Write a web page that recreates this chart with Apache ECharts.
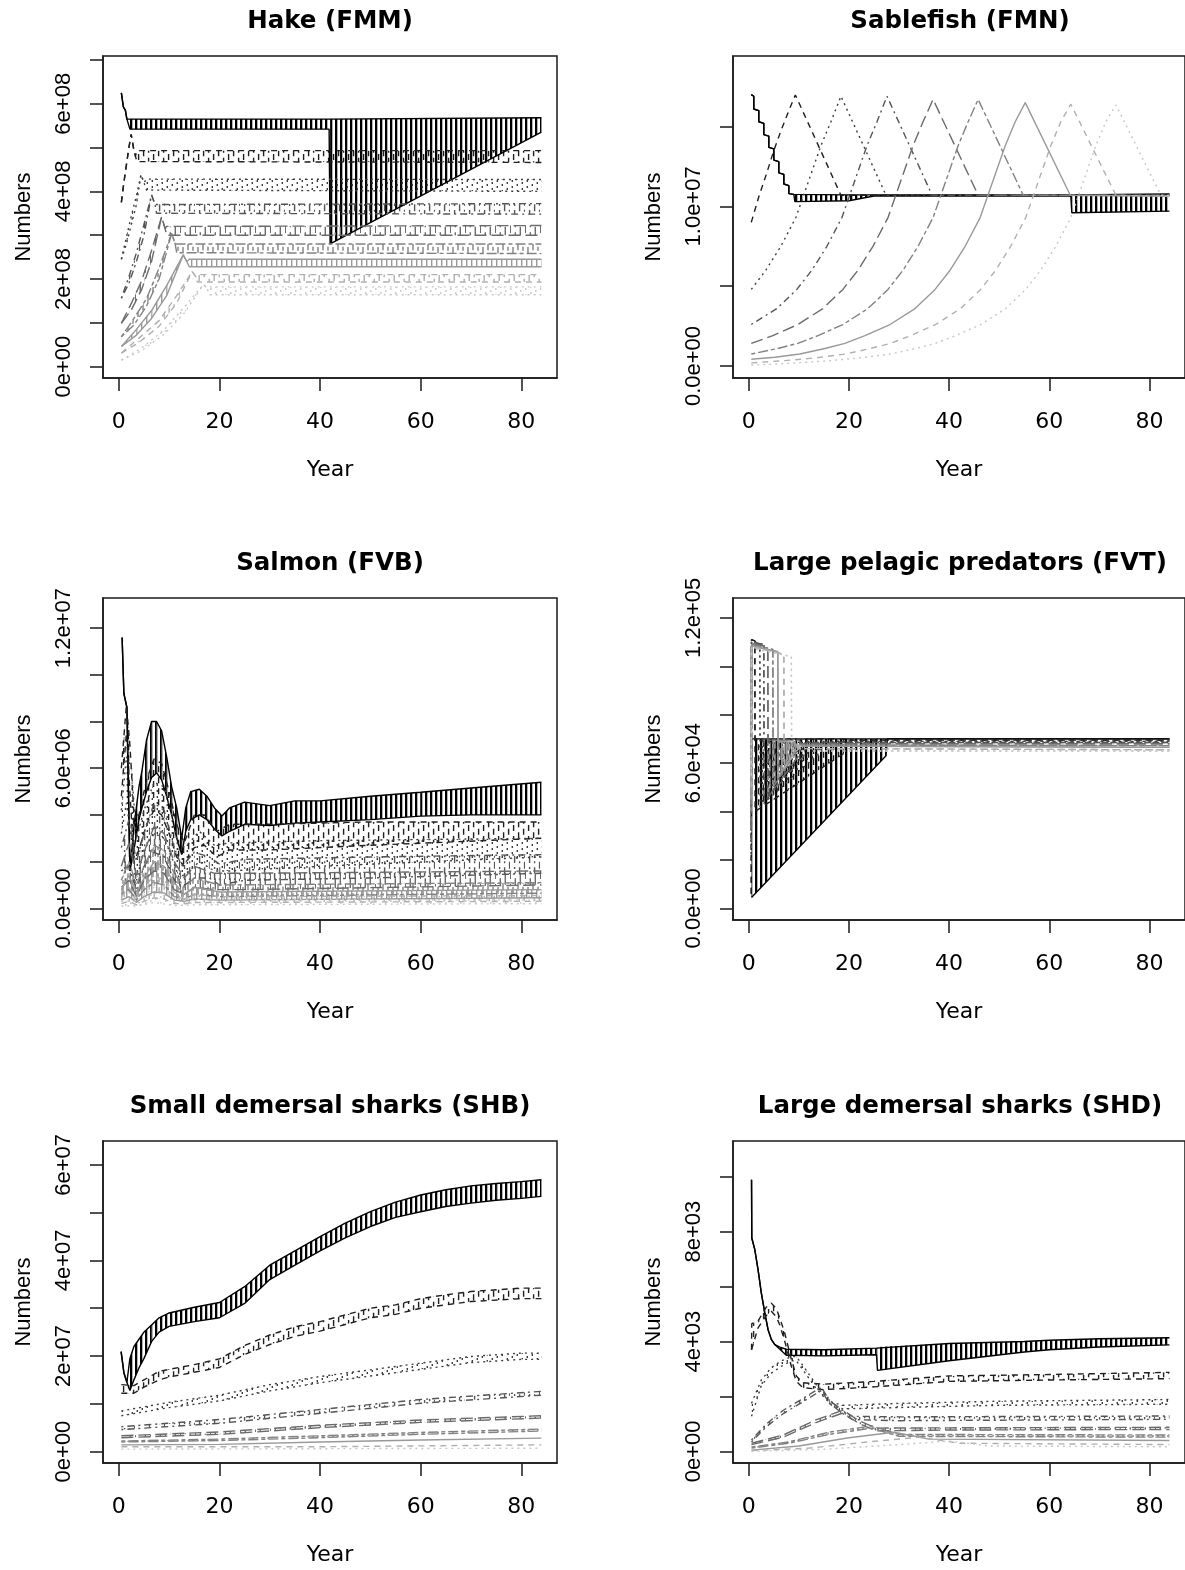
<!DOCTYPE html>
<html>
<head>
<meta charset="utf-8">
<script src="https://cdn.jsdelivr.net/npm/echarts@6/dist/echarts.min.js"></script>
<style>
html, body { margin: 0; padding: 0; background: #fff; }
#main { width: 1185px; height: 1570px; }
</style>
</head>
<body>
<div id="main"></div>
<script>
// x axis (years)
const xTickVals = [0, 20, 40, 60, 80];

// each line: [year, low, high] (panel units), low == high where the line does not oscillate
// Hake, units of 1e8
const hakeLines = [
  [[0.5,6.25,6.25],[0.9,5.93,5.93],[1.3,5.85,5.85],[1.6,5.65,5.65],[2.2,5.42,5.65],[41.8,5.42,5.65],[42.0,2.8,5.65],[84,5.35,5.68]],
  [[0.5,3.75,3.75],[1.0,4.2,4.2],[1.5,4.6,4.6],[2.0,5.0,5.0],[2.45,5.3,5.3],[2.9,5.0,5.0],[3.3,4.8,4.8],[3.6,4.68,4.93],[84,4.66,4.93]],
  [[0.5,2.45,2.45],[1.5,2.8,2.95],[2.5,3.25,3.45],[3.5,3.7,3.9],[4.4,4.38,4.38],[5.0,4.2,4.2],[5.5,4.03,4.28],[84,4.0,4.27]],
  [[0.5,1.56,1.56],[2,1.9,2.05],[3.5,2.4,2.6],[5,3.0,3.25],[6.5,3.92,3.92],[7.2,3.7,3.7],[7.5,3.5,3.72],[84,3.48,3.72]],
  [[0.5,0.99,0.99],[2.5,1.3,1.45],[4.5,1.75,1.95],[6.5,2.4,2.65],[8.5,3.42,3.42],[9.2,3.15,3.15],[9.5,3.0,3.2],[84,3.0,3.22]],
  [[0.5,0.68,0.68],[3,0.95,1.1],[5.5,1.38,1.55],[8,2.0,2.25],[10.5,3.04,3.04],[11.2,2.8,2.8],[11.5,2.6,2.8],[84,2.58,2.8]],
  [[0.5,0.46,0.46],[3.5,0.72,0.85],[6.5,1.1,1.28],[9.5,1.62,1.85],[12.8,2.55,2.55],[13.5,2.4,2.4],[14,2.28,2.45],[84,2.28,2.45]],
  [[0.5,0.31,0.31],[4,0.55,0.65],[8,0.92,1.05],[11.5,1.45,1.62],[14.6,2.17,2.17],[15.3,2.05,2.05],[15.6,1.93,2.1],[84,1.93,2.1]],
  [[0.5,0.15,0.15],[4.5,0.36,0.42],[9,0.74,0.84],[13,1.22,1.36],[16.8,1.87,1.87],[17.5,1.8,1.8],[18,1.64,1.82],[84,1.64,1.82]]
];
const hakeYTicks = [0, 1, 2, 3, 4, 5, 6, 7];
const hakeYLabelVals = [0, 2, 4, 6];
const hakeYLabels = ['0e+00', '2e+08', '4e+08', '6e+08'];

// Sablefish, units of 1e6
const sableLines = [
  [[0.5,17.0,17.0],[1.0,16.9,16.9],[1.0,16.1,16.1],[2.0,16.0,16.0],[2.0,15.3,15.3],[3.0,15.2,15.2],[3.0,14.5,14.5],[4.0,14.4,14.4],[4.0,13.7,13.7],[5.0,13.6,13.6],[5.0,12.9,12.9],[6.0,12.8,12.8],[6.0,12.1,12.1],[7.0,12.0,12.0],[7.0,11.4,11.4],[8.0,11.3,11.3],[8.0,10.8,10.8],[9.0,10.75,10.75],[9.2,10.3,10.72],[20,10.35,10.72],[25,10.65,10.72],[64.3,10.65,10.72],[64.5,9.6,10.78],[84,9.7,10.78]],
  [[0.5,9.0,9.0],[2,10.6,10.6],[3.5,12.0,12.0],[5,13.5,13.5],[6.5,14.8,14.8],[8,16.0,16.0],[9.3,16.98,16.98],[18.4,10.7,10.7],[84,10.7,10.7]],
  [[0.5,4.8,4.8],[3.4,6.0,6.0],[6.4,7.5,7.5],[9.4,9.3,9.3],[12.4,12.0,12.0],[14.4,13.8,13.8],[16.4,15.3,15.3],[18.4,16.9,16.9],[27.4,10.7,10.7],[84,10.7,10.7]],
  [[0.5,2.6,2.6],[5.6,3.6,3.6],[9.6,4.8,4.8],[12.6,6.0,6.0],[15.6,7.5,7.5],[18.6,9.3,9.3],[21.6,12.0,12.0],[23.6,13.8,13.8],[25.6,15.3,15.3],[27.6,16.9,16.9],[36.6,10.7,10.7],[84,10.7,10.7]],
  [[0.5,1.42,1.42],[4.8,1.9,1.9],[9.8,2.6,2.6],[14.8,3.6,3.6],[18.8,4.8,4.8],[21.8,6.0,6.0],[24.8,7.5,7.5],[27.8,9.3,9.3],[30.8,12.0,12.0],[32.8,13.8,13.8],[34.8,15.3,15.3],[36.8,16.7,16.7],[45.8,10.7,10.7],[84,10.68,10.68]],
  [[0.5,0.75,0.75],[5.8,1.1,1.1],[9.8,1.42,1.42],[13.8,1.9,1.9],[18.8,2.6,2.6],[23.8,3.6,3.6],[27.8,4.8,4.8],[30.8,6.0,6.0],[33.8,7.5,7.5],[36.8,9.3,9.3],[39.8,12.0,12.0],[41.8,13.8,13.8],[43.8,15.3,15.3],[45.8,16.7,16.7],[54.8,10.7,10.7],[84,10.66,10.66]],
  [[0.5,0.42,0.42],[5.2,0.55,0.55],[10.2,0.75,0.75],[15.2,1.1,1.1],[19.2,1.42,1.42],[23.2,1.9,1.9],[28.2,2.6,2.6],[33.2,3.6,3.6],[37.2,4.8,4.8],[40.2,6.0,6.0],[43.2,7.5,7.5],[46.2,9.3,9.3],[49.2,12.0,12.0],[51.2,13.8,13.8],[53.2,15.3,15.3],[55.2,16.5,16.5],[64.2,10.7,10.7],[84,10.65,10.65]],
  [[0.5,0.2,0.2],[6.3,0.32,0.32],[10.3,0.42,0.42],[14.3,0.55,0.55],[19.3,0.75,0.75],[24.3,1.1,1.1],[28.3,1.42,1.42],[32.3,1.9,1.9],[37.3,2.6,2.6],[42.3,3.6,3.6],[46.3,4.8,4.8],[49.3,6.0,6.0],[52.3,7.5,7.5],[55.3,9.3,9.3],[58.3,12.0,12.0],[60.3,13.8,13.8],[62.3,15.3,15.3],[64.3,16.4,16.4],[73.3,10.7,10.7],[84,10.62,10.62]],
  [[0.5,0.06,0.06],[5.3,0.12,0.12],[10.3,0.21,0.21],[15.3,0.32,0.32],[19.3,0.42,0.42],[23.3,0.55,0.55],[28.3,0.75,0.75],[33.3,1.1,1.1],[37.3,1.42,1.42],[41.3,1.9,1.9],[46.3,2.6,2.6],[51.3,3.6,3.6],[55.3,4.8,4.8],[58.3,6.0,6.0],[61.3,7.5,7.5],[64.3,9.3,9.3],[67.3,12.0,12.0],[69.3,13.8,13.8],[71.3,15.3,15.3],[73.3,16.35,16.35],[82.3,10.7,10.7],[84,10.68,10.68]]
];
const sableYTicks = [0, 5, 10, 15];
const sableYLabelVals = [0, 10];
const sableYLabels = ['0.0e+00', '1.0e+07'];

// Salmon, units of 1e6
const salmonLines = [
  [[0.65,11.6,11.6],[1.0,9.2,9.2],[1.6,8.6,8.6],[2.2,1.6,1.6],[3.0,2.5,3.5],[4.0,3.8,5.2],[4.6,4.3,5.9],[5.5,5.0,7.2],[6.5,5.6,8.0],[7.5,5.8,8.0],[8.5,5.5,7.6],[9.5,4.8,6.5],[10.5,4.0,5.2],[11.5,3.0,4.3],[12.5,2.3,3.0],[13.3,3.3,4.3],[14.3,3.8,5.0],[16,4.0,5.1],[17.5,3.8,4.8],[19,3.4,4.3],[20.5,3.1,3.95],[22,3.3,4.3],[25,3.6,4.55],[30,3.55,4.4],[35,3.65,4.6],[40,3.7,4.6],[50,3.8,4.8],[60,3.95,4.97],[70,4.0,5.15],[84,4.0,5.4]],
  [[0.5,4.8,6.0],[1.5,7.5,8.7],[2.2,5.0,7.0],[3.0,2.0,4.0],[4.0,2.5,4.0],[5.5,3.6,5.5],[7.0,4.2,6.4],[8.5,4.0,6.2],[10,3.2,5.0],[11.5,2.2,3.6],[13,1.8,2.8],[15,2.6,4.0],[17,2.7,4.0],[19.5,2.2,3.3],[22,2.5,3.6],[30,2.5,3.6],[50,2.7,3.7],[84,3.0,3.7]],
  [[0.5,3.2,4.2],[1.5,4.5,6.5],[2.5,3.0,6.0],[3.5,1.2,3.0],[5,2.5,4.2],[7,3.2,5.4],[9,3.0,5.2],[10.5,2.2,4.0],[12,1.3,2.5],[14,1.6,2.8],[16,2.0,3.3],[19,1.6,2.7],[22,1.6,2.8],[40,1.8,2.9],[84,2.2,3.0]],
  [[0.5,1.6,2.6],[2.0,1.8,3.8],[3.5,0.8,2.0],[5,1.8,3.2],[7,2.4,4.5],[9,2.2,4.2],[11,1.2,2.6],[12.5,0.9,1.8],[15,1.3,2.4],[18,1.3,2.2],[20,1.0,1.9],[25,1.2,2.1],[50,1.3,2.2],[84,1.5,2.3]],
  [[0.5,0.9,1.8],[2,1.2,2.8],[3.5,0.5,1.4],[5,1.2,2.4],[7,1.6,3.5],[9,1.5,3.2],[11,0.8,2.0],[13,0.6,1.3],[15,0.9,1.8],[19,0.8,1.5],[25,0.8,1.5],[84,1.0,1.6]],
  [[0.5,0.6,1.2],[2,0.8,2.0],[3.5,0.35,1.0],[5,0.8,1.8],[7,1.1,2.7],[9,1.0,2.5],[11,0.5,1.5],[13,0.4,0.9],[15,0.6,1.3],[20,0.5,1.0],[84,0.65,1.1]],
  [[0.5,0.35,0.8],[2,0.5,1.4],[3.5,0.25,0.7],[5,0.5,1.3],[7,0.7,2.0],[9,0.65,1.8],[11,0.35,1.1],[13,0.3,0.6],[15,0.4,0.9],[20,0.35,0.7],[84,0.45,0.8]],
  [[0.5,0.2,0.5],[2,0.3,0.9],[3.5,0.15,0.45],[5,0.3,0.9],[7,0.45,1.4],[9,0.4,1.2],[11,0.2,0.7],[13,0.2,0.4],[15,0.25,0.6],[20,0.25,0.5],[84,0.3,0.55]],
  [[0.5,0.1,0.3],[3.5,0.1,0.3],[7,0.25,0.9],[11,0.12,0.45],[15,0.15,0.4],[84,0.2,0.35]]
];
const salmonYTicks = [0, 2, 4, 6, 8, 10, 12];
const salmonYLabelVals = [0, 6, 12];
const salmonYLabels = ['0.0e+00', '6.0e+06', '1.2e+07'];

// Large pelagic predators, units of 1e4
const fvtLines = [
  [[0.55,0.45,7.0],[27.4,6.3,7.0],[27.7,7.0,7.0],[84,7.0,7.0]],
  [[0.5,0.6,0.6],[0.55,11.1,11.1],[1.2,11.05,11.05],[1.25,4.0,7.0],[19,6.4,7.0],[19.5,6.95,6.95],[84,6.95,6.95]],
  [[0.5,1.5,1.5],[0.55,11.05,11.05],[2.2,10.95,10.95],[2.25,4.2,7.0],[14,6.4,7.0],[14.5,6.9,6.9],[84,6.9,6.9]],
  [[0.5,2.5,2.5],[0.55,11.0,11.0],[3.0,10.9,10.9],[3.05,4.4,7.0],[11,6.3,7.0],[11.5,6.85,6.85],[84,6.85,6.85]],
  [[0.5,3.3,3.3],[0.55,10.95,10.95],[3.8,10.8,10.8],[3.85,4.6,6.95],[10,6.3,6.95],[10.5,6.8,6.8],[84,6.8,6.8]],
  [[0.5,4.0,4.0],[0.55,10.9,10.9],[4.8,10.7,10.7],[4.85,5.0,6.95],[9,6.3,6.9],[9.5,6.75,6.75],[84,6.72,6.72]],
  [[0.5,4.5,4.5],[0.55,10.85,10.85],[5.8,10.6,10.6],[5.85,5.4,6.9],[9,6.4,6.9],[9.5,6.7,6.7],[84,6.65,6.65]],
  [[0.5,5.0,5.0],[0.55,10.8,10.8],[7.0,10.5,10.5],[7.05,5.8,6.9],[9.5,6.5,6.9],[10,6.6,6.6],[84,6.55,6.55]],
  [[0.5,5.5,5.5],[0.55,10.75,10.75],[8.5,10.4,10.4],[8.55,6.2,6.9],[10,6.5,6.9],[10.5,6.5,6.5],[84,6.5,6.5]]
];
const fvtYTicks = [0, 2, 4, 6, 8, 10, 12];
const fvtYLabelVals = [0, 6, 12];
const fvtYLabels = ['0.0e+00', '6.0e+04', '1.2e+05'];

// Small demersal sharks, units of 1e7
const shbLines = [
  [[0.45,2.09,2.09],[1.0,1.65,1.65],[1.6,1.45,1.45],[2.2,1.28,1.95],[3,1.5,2.2],[4,1.75,2.35],[5,1.95,2.5],[6.5,2.3,2.65],[8,2.5,2.8],[10,2.62,2.9],[15,2.72,3.02],[20,2.8,3.12],[25,3.1,3.45],[30,3.6,3.9],[35,3.9,4.2],[40,4.2,4.5],[45,4.47,4.78],[50,4.71,5.02],[55,4.9,5.22],[60,5.02,5.37],[65,5.13,5.48],[70,5.2,5.56],[75,5.26,5.61],[80,5.3,5.65],[84,5.34,5.69]],
  [[0.5,1.22,1.4],[3,1.22,1.38],[5,1.35,1.5],[8,1.5,1.68],[10,1.56,1.72],[15,1.66,1.82],[20,1.76,1.94],[25,2.03,2.22],[30,2.24,2.44],[35,2.41,2.61],[40,2.52,2.72],[45,2.66,2.86],[50,2.8,3.0],[55,2.87,3.07],[60,3.0,3.2],[65,3.07,3.28],[70,3.14,3.35],[80,3.2,3.42],[84,3.2,3.42]],
  [[0.5,0.75,0.85],[10,0.92,1.03],[20,1.06,1.18],[30,1.27,1.4],[40,1.44,1.57],[50,1.58,1.71],[60,1.72,1.85],[70,1.86,1.99],[80,1.93,2.06],[84,1.93,2.06]],
  [[0.5,0.46,0.52],[20,0.59,0.67],[40,0.8,0.88],[60,1.01,1.09],[84,1.18,1.26]],
  [[0.5,0.29,0.33],[20,0.36,0.41],[40,0.5,0.55],[60,0.61,0.66],[84,0.7,0.75]],
  [[0.5,0.2,0.22],[20,0.23,0.26],[40,0.29,0.33],[60,0.36,0.4],[84,0.43,0.47]],
  [[0.5,0.14,0.14],[20,0.15,0.15],[40,0.2,0.2],[60,0.24,0.24],[84,0.28,0.28]],
  [[0.5,0.1,0.1],[40,0.1,0.1],[84,0.14,0.14]],
  [[0.5,0.05,0.05],[84,0.07,0.07]]
];
const shbYTicks = [0, 1, 2, 3, 4, 5, 6];
const shbYLabelVals = [0, 2, 4, 6];
const shbYLabels = ['0e+00', '2e+07', '4e+07', '6e+07'];

// Large demersal sharks, units of 1e3
const shdLines = [
  [[0.55,9.89,9.89],[0.6,7.77,7.77],[1.2,7.35,7.35],[1.85,6.62,6.62],[2.5,5.77,5.77],[3.2,5.04,5.04],[3.84,4.44,4.44],[4.5,4.08,4.08],[5.2,3.89,3.89],[6.2,3.72,3.8],[7.5,3.5,3.72],[15,3.48,3.7],[25.5,3.52,3.76],[25.7,2.95,3.8],[40,3.3,3.93],[55,3.62,4.0],[60,3.7,4.05],[70,3.8,4.1],[84,3.88,4.14]],
  [[0.55,3.7,3.7],[0.6,3.7,4.65],[1.85,4.5,4.75],[3.5,4.95,5.25],[4.5,5.1,5.4],[5.5,4.9,5.2],[6.2,4.6,4.85],[7.2,4.0,4.3],[8.5,3.1,3.35],[9.5,2.55,2.75],[10.8,2.32,2.5],[15,2.25,2.45],[25,2.35,2.55],[40,2.55,2.75],[60,2.6,2.8],[84,2.65,2.88]],
  [[0.55,1.28,1.75],[2.5,2.4,2.6],[4.5,2.85,3.05],[6.5,3.1,3.3],[8.5,3.3,3.45],[9.5,3.3,3.45],[11.1,2.9,3.05],[13.4,2.3,2.45],[16.7,1.65,1.78],[18.8,1.55,1.68],[30,1.6,1.75],[50,1.68,1.83],[84,1.72,1.89]],
  [[0.55,0.35,0.42],[3.5,0.9,1.0],[6.9,1.38,1.5],[10.2,1.74,1.86],[13.4,2.1,2.22],[14.5,2.22,2.34],[16.1,1.75,1.85],[18.8,1.38,1.5],[20.7,1.16,1.28],[30,1.12,1.26],[84,1.17,1.29]],
  [[0.55,0.25,0.3],[6.9,0.52,0.6],[13.4,1.05,1.15],[18.8,1.4,1.5],[22,1.02,1.12],[25.4,0.75,0.85],[40,0.78,0.86],[84,0.8,0.88]],
  [[0.55,0.12,0.16],[8,0.3,0.35],[16,0.62,0.7],[24.5,0.85,0.93],[30,0.55,0.62],[84,0.52,0.6]],
  [[0.55,0.05,0.05],[10,0.2,0.2],[20,0.5,0.5],[29,0.7,0.7],[36,0.45,0.45],[84,0.4,0.4]],
  [[0.55,0.03,0.03],[12,0.12,0.12],[24,0.35,0.35],[34,0.52,0.52],[42,0.3,0.3],[84,0.25,0.25]],
  [[0.55,0.0,0.0],[15,0.08,0.08],[30,0.25,0.25],[40,0.38,0.38],[48,0.2,0.2],[84,0.17,0.17]]
];
const shdYTicks = [0, 2, 4, 6, 8, 10];
const shdYLabelVals = [0, 4, 8];
const shdYLabels = ['0e+00', '4e+03', '8e+03'];

// styles: R-like grey ramp and lty cycle
const lineColors = ['#000000', '#1f1f1f', '#3d3d3d', '#555555', '#6b6b6b', '#828282', '#999999', '#b0b0b0', '#c8c8c8'];
const lineTypes = ['solid', 'dashed', 'dotted', 'dotdash', 'longdash', 'twodash', 'solid', 'dashed', 'dotted'];
const dashArrays = {
  solid: null,
  dashed: [6, 5],
  dotted: [2, 4],
  dotdash: [2, 4, 7, 4],
  longdash: [12, 5],
  twodash: [4, 3, 10, 3]
};
const hatchX = [1.1, 3.6, 2.3, 4.6, 0.3, 3.0, 1.7, 4.2, 0.8];

const panels = [
  { title: 'Hake (FMM)', lines: hakeLines, unit: 1e8, yMin: -0.26, yMax: 7.09, ticks: hakeYTicks, labelVals: hakeYLabelVals, labels: hakeYLabels },
  { title: 'Sablefish (FMN)', lines: sableLines, unit: 1e6, yMin: -0.75, yMax: 19.42, ticks: sableYTicks, labelVals: sableYLabelVals, labels: sableYLabels },
  { title: 'Salmon (FVB)', lines: salmonLines, unit: 1e6, yMin: -0.5, yMax: 13.29, ticks: salmonYTicks, labelVals: salmonYLabelVals, labels: salmonYLabels },
  { title: 'Large pelagic predators (FVT)', lines: fvtLines, unit: 1e4, yMin: -0.48, yMax: 12.82, ticks: fvtYTicks, labelVals: fvtYLabelVals, labels: fvtYLabels },
  { title: 'Small demersal sharks (SHB)', lines: shbLines, unit: 1e7, yMin: -0.24, yMax: 6.5, ticks: shbYTicks, labelVals: shbYLabelVals, labels: shbYLabels },
  { title: 'Large demersal sharks (SHD)', lines: shdLines, unit: 1e3, yMin: -0.42, yMax: 11.3, ticks: shdYTicks, labelVals: shdYLabelVals, labels: shdYLabels }
];

// layout
const colLeft = [103, 733];
const rowTop = [56, 598, 1141];
const boxW = 454, boxH = 322;
const inkColor = '#1a1a1a';

// vertical hatch standing in for the yearly zigzag (about one stroke per year, 5 px);
// broken line types get dashed strokes whose phase shifts from column to column
function makeHatch(color, k) {
  const dash = dashArrays[lineTypes[k]];
  const period = dash ? dash.reduce((a, b) => a + b, 0) : 8;
  const cols = dash ? 3 : 1;
  const c = document.createElement('canvas');
  c.width = 5 * cols;
  c.height = period;
  const ctx = c.getContext('2d');
  ctx.strokeStyle = color;
  ctx.lineWidth = k === 0 ? 2.4 : 1.4;
  for (let m = 0; m < cols; m++) {
    const x = hatchX[k] + 5 * m;
    if (dash) {
      ctx.setLineDash(dash);
      ctx.lineDashOffset = (period * m) / cols;
    }
    ctx.beginPath();
    ctx.moveTo(x, -period);
    ctx.lineTo(x, 2 * period);
    ctx.stroke();
  }
  return { image: c, repeat: 'repeat' };
}

const hatches = lineColors.map((c, k) => makeHatch(c, k));

const grids = [], xAxes = [], yAxes = [], series = [], graphics = [];

function isBanded(a, b) {
  return a[2] > a[1] || b[2] > b[1];
}

panels.forEach((p, i) => {
  const col = i % 2, row = Math.floor(i / 2);
  const left = colLeft[col], top = rowTop[row];
  const u = p.unit;
  grids.push({ left: left, top: top, width: boxW, height: boxH, show: true, borderColor: inkColor, borderWidth: 1.5, backgroundColor: 'transparent' });

  xAxes.push({
    type: 'value', gridIndex: i, min: -3.15, max: 87.1,
    name: 'Year', nameLocation: 'middle', nameGap: 81,
    nameTextStyle: { fontFamily: 'DejaVu Sans', fontSize: 22, color: '#000' },
    axisLine: { show: true, onZero: false, lineStyle: { color: inkColor, width: 1.5 } },
    splitLine: { show: false },
    axisTick: { show: true, length: 13, customValues: xTickVals, lineStyle: { color: inkColor, width: 1.5 } },
    axisLabel: { show: true, margin: 33, customValues: xTickVals, fontFamily: 'DejaVu Sans', fontSize: 22, color: '#000' }
  });

  yAxes.push({
    type: 'value', gridIndex: i, min: p.yMin * u, max: p.yMax * u,
    name: 'Numbers', nameLocation: 'middle', nameGap: 68,
    nameTextStyle: { fontFamily: 'Liberation Sans', fontSize: 22, color: '#000' },
    axisLine: { show: true, onZero: false, lineStyle: { color: inkColor, width: 1.5 } },
    splitLine: { show: false },
    axisTick: { show: true, length: 13, customValues: p.ticks.map(t => t * u), lineStyle: { color: inkColor, width: 1.5 } },
    axisLabel: {
      show: true, rotate: 90, margin: 28,
      customValues: p.labelVals.map(v => v * u),
      fontFamily: 'Liberation Sans', fontSize: 22, color: '#000',
      formatter: function (v) {
        const j = p.labelVals.findIndex(l => Math.abs(l * u - v) < u * 1e-6);
        return j >= 0 ? p.labels[j] : '';
      }
    }
  });

  graphics.push({
    type: 'text', x: left + boxW / 2, y: top - 34,
    style: { text: p.title, font: 'bold 24.5px "DejaVu Sans"', fill: '#000', align: 'center', verticalAlign: 'middle' }
  });

  p.lines.forEach((pts, k) => {
    const color = lineColors[k];
    const dash = dashArrays[lineTypes[k]];
    const lineStyle = { color: color, width: 1.4, type: dash ? dash : 'solid' };

    // oscillating stretches: hatched polygons between the low and high envelopes
    const segs = [];
    for (let j = 0; j < pts.length - 1; j++) {
      const a = pts[j], b = pts[j + 1];
      if (isBanded(a, b)) segs.push([a[0], a[1] * u, a[2] * u, b[0], b[1] * u, b[2] * u]);
    }
    if (segs.length) {
      const fill = hatches[k];
      series.push({
        type: 'custom', coordinateSystem: 'cartesian2d', xAxisIndex: i, yAxisIndex: i,
        silent: true, animation: false,
        encode: { x: [0, 3], y: [1, 2, 4, 5] },
        data: segs,
        renderItem: function (params, api) {
          const p0 = api.coord([api.value(0), api.value(1)]);
          const p1 = api.coord([api.value(0), api.value(2)]);
          const p2 = api.coord([api.value(3), api.value(5)]);
          const p3 = api.coord([api.value(3), api.value(4)]);
          return { type: 'polygon', shape: { points: [p0, p1, p2, p3] }, style: { fill: fill } };
        }
      });
    }

    // low envelope (the line itself where it is steady), then high envelope
    series.push({
      type: 'line', xAxisIndex: i, yAxisIndex: i, symbol: 'none', silent: true, animation: false,
      lineStyle: lineStyle, data: pts.map(q => [q[0], q[1] * u])
    });
    if (segs.length) {
      series.push({
        type: 'line', xAxisIndex: i, yAxisIndex: i, symbol: 'none', silent: true, animation: false,
        lineStyle: lineStyle, data: pts.map(q => [q[0], q[2] * u])
      });
    }
  });
});

const chart = echarts.init(document.getElementById('main'), null, { renderer: 'canvas' });
chart.setOption({
  backgroundColor: '#fff',
  animation: false,
  grid: grids,
  xAxis: xAxes,
  yAxis: yAxes,
  graphic: graphics,
  series: series
});
</script>
</body>
</html>
